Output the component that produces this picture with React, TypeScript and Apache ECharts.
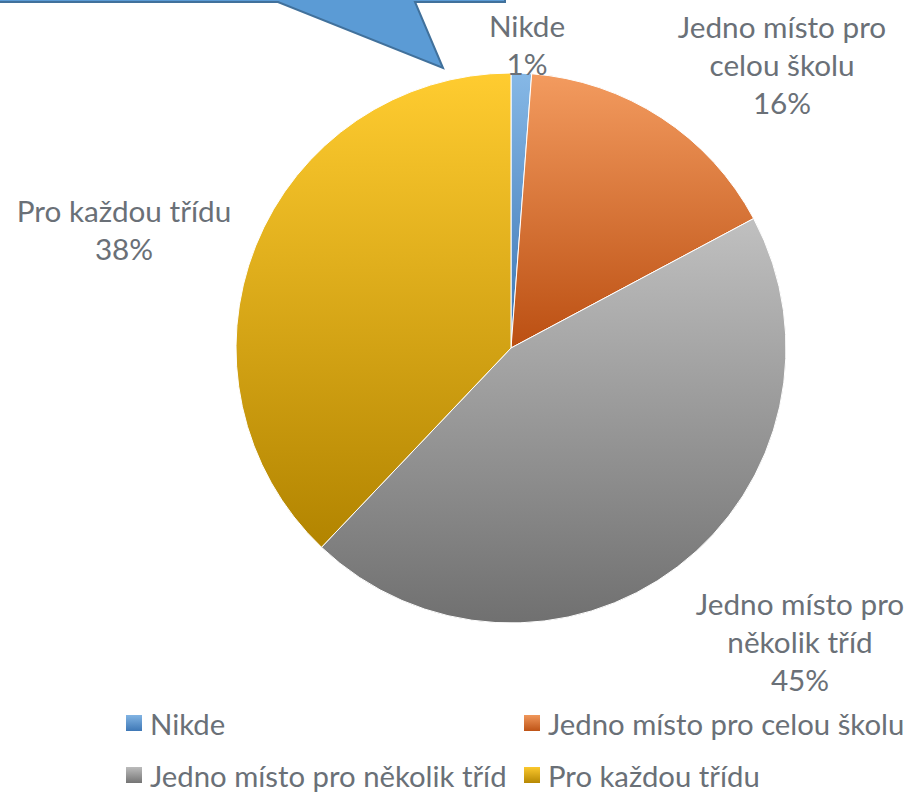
import React, { useEffect, useRef } from "react";
import * as echarts from "echarts";

const categories = [
  "Nikde",
  "Jedno místo pro celou školu",
  "Jedno místo pro několik tříd",
  "Pro každou třídu",
];
const values = [1.2, 16.0, 44.9, 37.9];
const topColors = ["#86B8E6", "#F39B5F", "#C0C0C0", "#FFCC30"];
const bottomColors = ["#3A74B3", "#BB4F12", "#707070", "#B28400"];
// label anchor positions (centre of label block)
const labelPos: [number, number][] = [
  [527, 44],
  [782, 64],
  [800, 641],
  [124, 229],
];

const FONT = "Lato, 'Open Sans', sans-serif";
const TEXT = "#6A7077";

function grad(i: number) {
  return new echarts.graphic.LinearGradient(0, 0, 0, 1, [
    { offset: 0, color: topColors[i] },
    { offset: 1, color: bottomColors[i] },
  ]);
}

const legendBase = {
  orient: "vertical",
  top: 708,
  padding: 0,
  height: 84,
  itemWidth: 18,
  itemHeight: 18,
  itemGap: 22,
  icon: "rect",
  textStyle: {
    fontFamily: FONT,
    fontSize: 29.3,
    color: TEXT,
    lineHeight: 30,
    padding: [0, 0, 0, 2],
  },
};

export default function App() {
  const ref = useRef<HTMLDivElement>(null);
  useEffect(() => {
    if (!ref.current) return;
    const chart = echarts.init(ref.current, undefined, { renderer: "svg" });
    const data = categories.map((name, i) => ({
      name,
      value: values[i],
      itemStyle: { color: grad(i) },
    }));
    chart.setOption({
      animation: false,
      backgroundColor: "#ffffff",
      graphic: [
        {
          type: "polygon",
          shape: {
            points: [
              [-10, -60],
              [505, -60],
              [505, 2],
              [415, 2],
              [443, 68],
              [278, 2],
              [-10, 2],
            ],
          },
          style: { fill: "#5B9BD5", stroke: "#41719C", lineWidth: 2 },
          z: 10,
        },
      ],
      legend: [
        { ...legendBase, data: [categories[0], categories[2]], left: 124 },
        { ...legendBase, data: [categories[1], categories[3]], left: 522 },
      ],
      series: [
        {
          type: "pie",
          center: [511, 348],
          radius: 275,
          startAngle: 90,
          clockwise: true,
          data,
          itemStyle: { borderColor: "#ffffff", borderWidth: 1 },
          label: {
            show: true,
            position: "outside",
            fontFamily: FONT,
            fontSize: 29.7,
            lineHeight: 38,
            color: TEXT,
            align: "center",
            overflow: "none",
            formatter: (p: any) =>
              p.name.replace(" pro ", " pro\n") + "\n" + Math.round(p.percent) + "%",
          },
          labelLine: { show: false },
          labelLayout: (p: any) => ({
            x: labelPos[p.dataIndex][0],
            y: labelPos[p.dataIndex][1],
            align: "center",
            verticalAlign: "middle",
          }),
          emphasis: { disabled: true },
        },
      ],
    });
    return () => chart.dispose();
  }, []);
  return (
    <div
      ref={ref}
      style={{ position: "fixed", left: 0, top: 0, width: 910, height: 792 }}
    />
  );
}
